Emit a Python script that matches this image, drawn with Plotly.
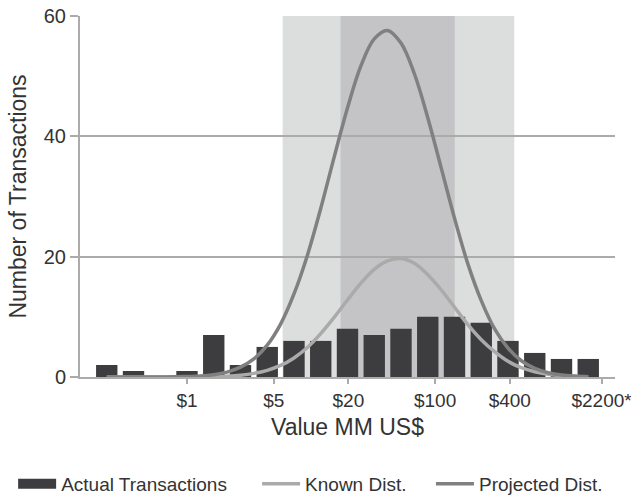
import numpy as np
import plotly.graph_objects as go

# ---------------- data ----------------
bin_centers_usd = [0.2255, 0.3705, 0.6086, 1.0, 1.643, 2.699, 4.435, 7.287, 11.97,
                   19.67, 32.33, 53.1, 87.3, 143.4, 235.6, 387.0, 636.0, 1045.0, 1717.0]
actual_transactions = [2, 1, 0, 1, 7, 2, 5, 6, 6, 8, 7, 8, 10, 10, 9, 6, 4, 3, 3]

# distribution curves sampled at bin centres and the midpoints between them
known_dist = [0, 0, 0, 0, 0, 0, 0.01, 0.03, 0.06, 0.14, 0.30, 0.6, 1.11, 1.92, 3.17, 4.9,
              7.2, 9.9, 12.8, 15.6, 17.9, 19.3, 19.7, 18.9, 17.0, 14.5, 11.6, 8.7, 6.2,
              4.2, 2.6, 1.55, 0.87, 0.46, 0.23, 0.1, 0.05]
projected_dist = [0, 0, 0, 0, 0.01, 0.03, 0.07, 0.17, 0.39, 0.82, 1.63, 3.0, 5.3, 8.8,
                  13.8, 20.2, 28.0, 36.5, 44.7, 51.7, 56.2, 57.6, 55.5, 50.4, 43.1, 34.8,
                  26.4, 18.8, 12.7, 8.0, 4.8, 2.7, 1.42, 0.71, 0.33, 0.15, 0.06]

tick_values_usd = [1, 5, 20, 100, 400, 2200]
tick_labels = ["$1", "$5", "$20", "$100", "$400", "$2200*"]
y_ticks = [0, 20, 40, 60]

light_band_usd = [5.9, 435]
dark_band_usd = [17.3, 144]

# ---------------- derived ----------------
lc = np.log10(bin_centers_usd)
curve_x = []
for i in range(len(lc)):
    curve_x.append(lc[i])
    if i < len(lc) - 1:
        curve_x.append((lc[i] + lc[i + 1]) / 2)
step = lc[1] - lc[0]

FONT = "Liberation Sans, Arial, sans-serif"
TXT = "#333333"
AXC = "#ababab"
BAR = "#3d3d3f"
KNOWN = "#aaaaaa"
PROJ = "#808080"

fig = go.Figure()
fig.add_trace(go.Bar(x=lc, y=actual_transactions, marker_color=BAR, marker_line_width=0,
                     name="Actual Transactions", showlegend=False, legendgroup="a"))
fig.add_trace(go.Scatter(x=curve_x, y=known_dist, mode="lines", line=dict(color=KNOWN, width=3.5, shape="spline"),
                         name="Known Dist.", legend="legend2"))
fig.add_trace(go.Scatter(x=curve_x, y=projected_dist, mode="lines", line=dict(color=PROJ, width=3.5, shape="spline"),
                         name="Projected Dist.", legend="legend3"))
# legend swatch for the bars
fig.add_trace(go.Scatter(x=[None], y=[None], mode="lines", line=dict(color=BAR, width=15),
                         name="Actual Transactions", legendgroup="a", legend="legend"))

fig.add_shape(type="rect", xref="x", yref="y", x0=np.log10(light_band_usd[0]), x1=np.log10(light_band_usd[1]),
              y0=0, y1=60, fillcolor="#dcdddd", line_width=0, layer="below")
fig.add_shape(type="rect", xref="x", yref="y", x0=np.log10(dark_band_usd[0]), x1=np.log10(dark_band_usd[1]),
              y0=0, y1=60, fillcolor="#c4c4c6", line_width=0, layer="below")

legend_common = dict(orientation="h", font=dict(family=FONT, size=19, color=TXT), bgcolor="rgba(0,0,0,0)",
                     yanchor="middle", y=-0.296, xanchor="left", itemwidth=38)

fig.update_layout(
    width=631, height=498,
    margin=dict(l=80, r=16, t=16, b=121, autoexpand=False),
    plot_bgcolor="white", paper_bgcolor="white",
    font=dict(family=FONT, color=TXT),
    bargap=0.2,
    legend=dict(legend_common, x=-0.125),
    legend2=dict(legend_common, x=0.331),
    legend3=dict(legend_common, x=0.656),
    xaxis=dict(range=[lc[0] - step, lc[-1] + step], tickvals=np.log10(tick_values_usd), ticktext=tick_labels,
               showgrid=False, zeroline=False, showline=True, linecolor=AXC, linewidth=2,
               ticks="outside", ticklen=5, tickwidth=2, tickcolor=AXC, automargin=False,
               ticklabeloverflow="allow",
               tickfont=dict(size=19, color=TXT),
               title=dict(text="Value MM US$", font=dict(size=23, color=TXT), standoff=9)),
    yaxis=dict(range=[0, 60], tickvals=y_ticks, showgrid=True, gridcolor=AXC, gridwidth=2,
               zeroline=False, showline=True, linecolor=AXC, linewidth=2, automargin=False,
               ticks="outside", ticklen=8, tickwidth=2, tickcolor=AXC,
               tickfont=dict(size=20, color=TXT),
               title=dict(text="Number of Transactions", font=dict(size=23, color=TXT), standoff=11)),
)

fig.write_html("out.html", config={"displayModeBar": False},
               post_script="document.body.style.margin='0';")
